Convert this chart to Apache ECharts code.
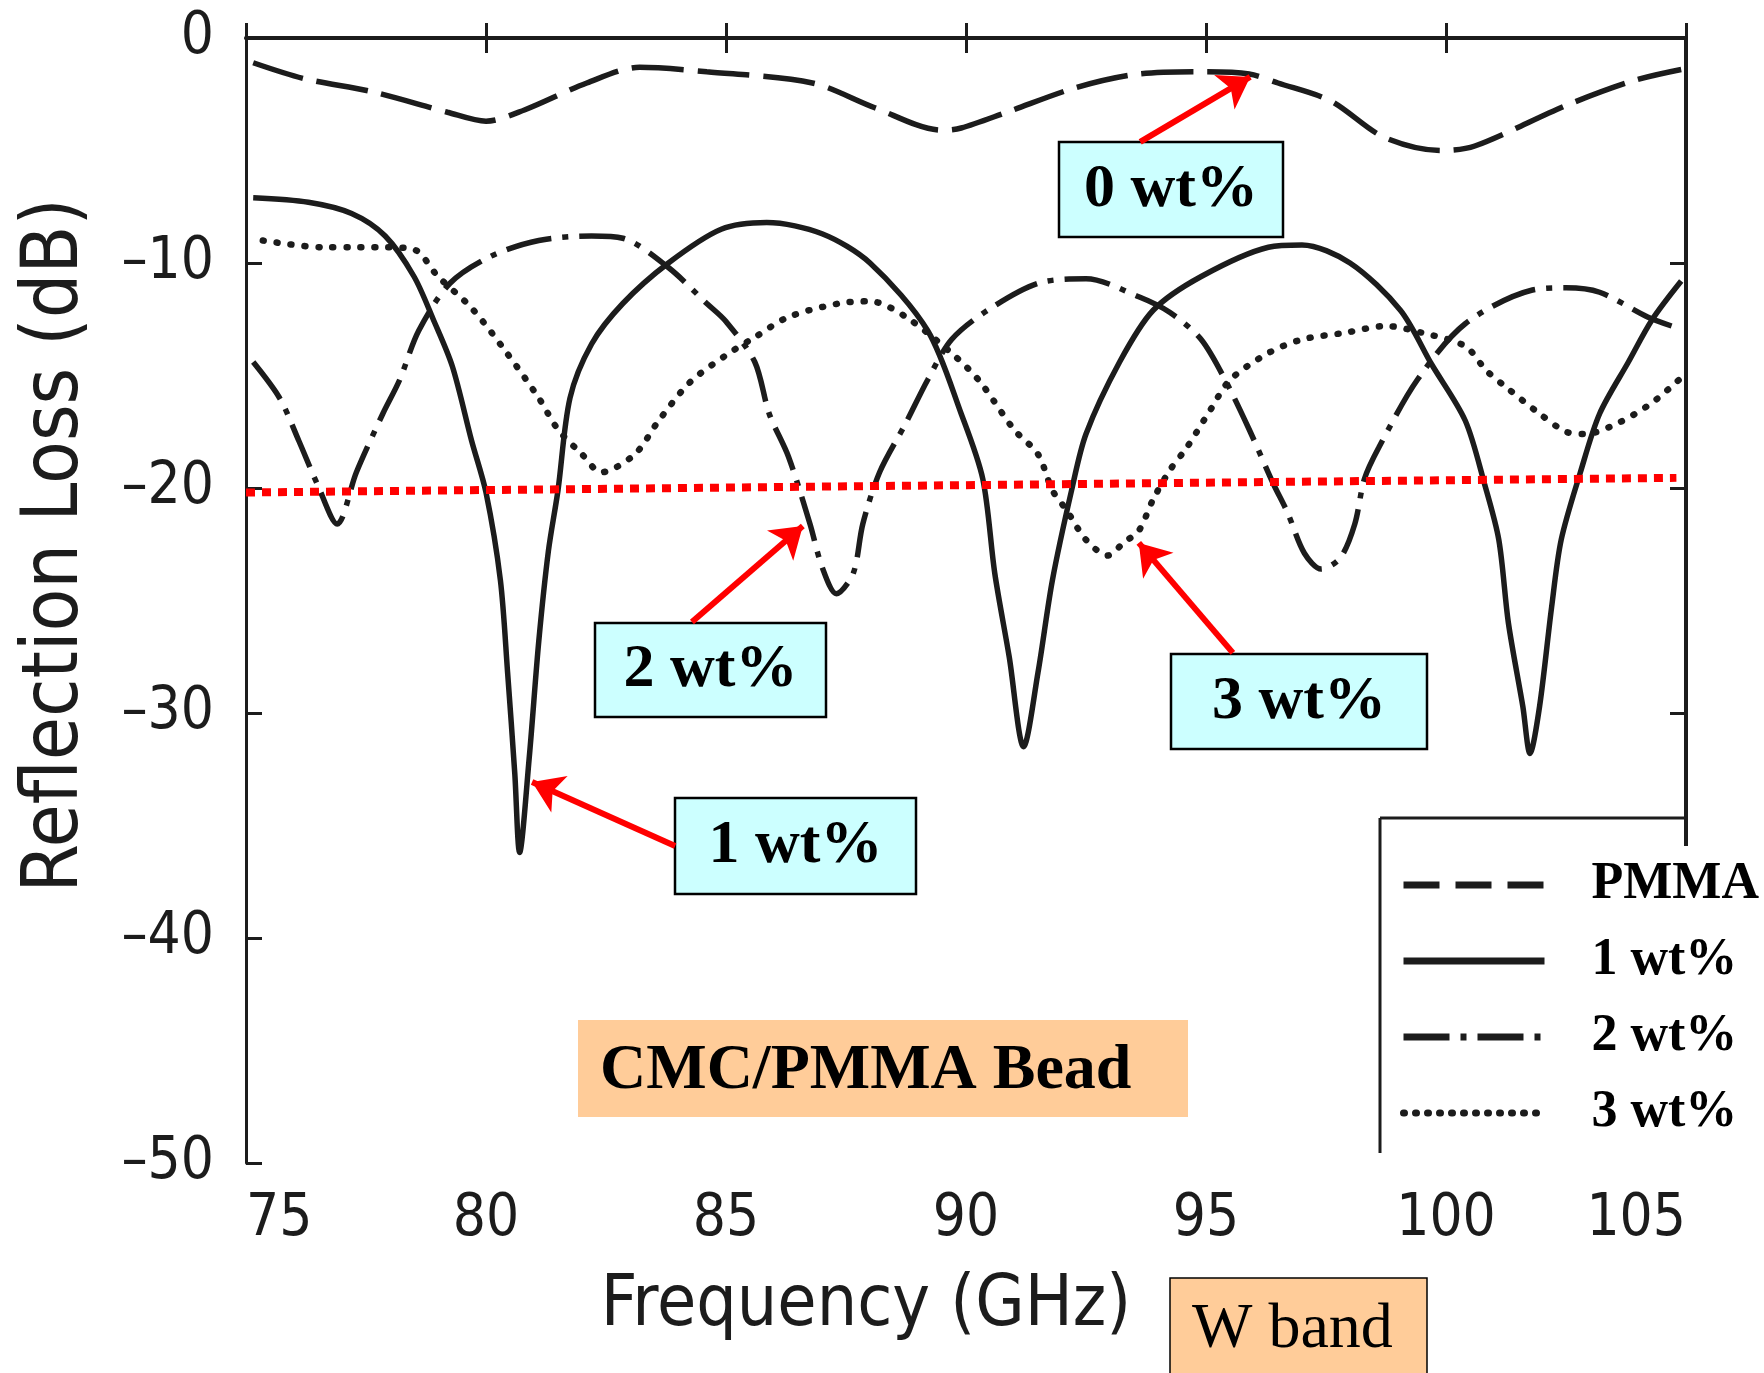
<!DOCTYPE html>
<html>
<head>
<meta charset="utf-8">
<title>Reflection Loss - CMC/PMMA Bead</title>
<script src="https://cdn.jsdelivr.net/npm/echarts@6/dist/echarts.min.js"></script>
<style>
html, body { margin: 0; padding: 0; background: #fff; }
#main { width: 1764px; height: 1373px; }
</style>
</head>
<body>
<div id="main"></div>
<script>
// axis ticks
var freqTicks = [75, 80, 85, 90, 95, 100, 105];
var lossTicks = [-50, -40, -30, -20, -10, 0];

// PMMA (0 wt%)
var pmmaFreq = [75.15, 76.2, 77.65, 79.2, 80.0, 80.8, 82.1, 83.2, 84.6, 86.8, 88.1, 89.5, 89.9, 90.85, 92.3, 93.6, 95.0, 95.9, 96.5, 97.6, 98.7, 99.9, 100.6, 102.5, 103.9, 104.9];
var pmmaLoss = [-1.1, -1.8, -2.4, -3.3, -3.7, -3.2, -2.0, -1.3, -1.5, -2.0, -3.1, -4.1, -4.0, -3.3, -2.2, -1.6, -1.5, -1.6, -2.0, -2.8, -4.4, -5.0, -4.8, -3.0, -1.9, -1.4];

// 1 wt%
var wt1Freq = [75.15, 76.3, 77.2, 77.9, 78.5, 78.9, 79.3, 79.7, 80.0, 80.3, 80.45, 80.6, 80.7, 80.9, 81.1, 81.3, 81.5, 81.75, 82.2, 82.85, 83.8, 84.9, 85.85, 87.0, 88.0, 89.2, 89.9, 90.35, 90.6, 90.9, 91.2, 91.5, 91.8, 92.2, 92.5, 93.2, 93.9, 94.9, 96.3, 97.0, 98.0, 99.05, 99.7, 100.4, 100.8, 101.1, 101.3, 101.6, 101.75, 101.95, 102.2, 102.4, 102.8, 103.2, 103.8, 104.3, 104.9];
var wt1Loss = [-7.1, -7.3, -7.8, -8.8, -10.6, -12.5, -14.6, -17.9, -20.2, -24.1, -28.2, -32.7, -36.2, -32.0, -26.8, -22.8, -20.1, -16.0, -13.6, -11.8, -10.0, -8.5, -8.2, -8.7, -10.0, -13.0, -16.7, -19.6, -23.8, -27.5, -31.5, -28.2, -24.1, -20.1, -17.6, -14.4, -12.1, -10.6, -9.3, -9.2, -10.0, -12.1, -14.5, -17.0, -19.8, -22.3, -26.0, -29.7, -31.8, -29.7, -25.3, -22.3, -19.3, -16.7, -14.4, -12.5, -10.8];

// 2 wt%
var wt2Freq = [75.15, 75.7, 76.1, 76.5, 76.9, 77.3, 77.85, 78.2, 78.6, 79.25, 80.1, 81.1, 82.2, 82.85, 83.8, 84.6, 85.0, 85.6, 85.9, 86.3, 86.75, 87.0, 87.3, 87.65, 87.85, 88.2, 88.75, 89.2, 89.7, 90.45, 91.5, 92.5, 93.6, 94.25, 94.9, 95.4, 95.9, 96.4, 96.7, 97.05, 97.4, 97.8, 98.1, 98.3, 98.6, 99.4, 100.4, 101.8, 102.5, 103.2, 104.2, 104.7];
var wt2Loss = [-14.4, -16.0, -17.9, -19.9, -21.6, -19.3, -16.7, -15.2, -13.0, -10.9, -9.7, -9.0, -8.8, -8.9, -10.2, -11.8, -12.6, -14.4, -16.7, -18.6, -21.6, -23.5, -24.7, -23.8, -21.6, -19.3, -17.1, -15.2, -13.4, -12.1, -10.9, -10.7, -11.5, -12.2, -13.4, -15.2, -17.4, -19.8, -21.1, -22.9, -23.6, -23.1, -21.6, -19.6, -18.2, -15.2, -12.7, -11.2, -11.1, -11.3, -12.4, -12.8];

// 3 wt%
var wt3Freq = [75.35, 76.6, 77.2, 77.85, 78.5, 79.0, 79.7, 80.4, 81.1, 81.5, 82.0, 82.4, 83.1, 83.6, 84.25, 85.0, 85.6, 86.3, 87.35, 88.0, 88.75, 89.8, 90.3, 91.0, 91.5, 91.8, 92.1, 92.5, 92.95, 93.3, 93.6, 93.9, 94.25, 94.6, 95.1, 95.5, 96.3, 97.0, 97.9, 98.75, 99.5, 100.4, 100.85, 101.3, 101.95, 102.5, 102.9, 103.6, 104.3, 104.9];
var wt3Loss = [-9.0, -9.3, -9.3, -9.3, -9.4, -10.6, -12.0, -13.9, -16.0, -17.4, -18.5, -19.3, -18.5, -17.0, -15.3, -14.1, -13.3, -12.4, -11.8, -11.7, -12.4, -14.2, -15.3, -17.4, -18.5, -20.1, -21.0, -22.3, -23.0, -22.4, -21.9, -20.5, -19.2, -18.2, -16.5, -15.2, -14.0, -13.4, -13.1, -12.8, -13.1, -13.7, -14.8, -15.6, -16.7, -17.5, -17.6, -17.1, -16.2, -15.1];

// red -20 dB guide line and the label arrows (tail -> head)
var guideLine = [[75, -20.2], [104.8, -19.55]];
var arrowFrom = [[93.63, -4.62], [84.29, -25.96], [83.94, -35.91], [95.56, -27.33]];
var arrowTo = [[95.92, -1.73], [86.6, -21.69], [80.96, -33.07], [93.6, -22.44]];

var seriesNames = ['PMMA', '1 wt%', '2 wt%', '3 wt%'];

var ink = '#1c1c1c';
var scanFont = '"DejaVu Sans Condensed", "DejaVu Sans", sans-serif';
var serif = '"Liberation Serif", "Times New Roman", serif';

function pairs(xs, ys) {
    return xs.map(function (x, i) { return [x, ys[i]]; });
}

function curve(name, xs, ys, dash, cap, width) {
    return {
        name: name,
        type: 'line',
        data: pairs(xs, ys),
        symbol: 'none',
        smooth: 0.3,
        lineStyle: { color: ink, width: width || 5.5, type: dash, cap: cap || 'butt' },
        itemStyle: { color: ink },
        emphasis: { disabled: true },
        z: 2
    };
}

// a cyan / orange label box with text
function box(x, y, w, h, fill, text, opt) {
    opt = opt || {};
    var items = [{
        type: 'rect',
        z: 5,
        shape: { x: x, y: y, width: w, height: h },
        style: { fill: fill, stroke: opt.stroke === undefined ? '#000' : opt.stroke, lineWidth: opt.lineWidth || 2.5 }
    }];
    var tx = opt.left ? x + opt.left : x + w / 2;
    items.push({
        type: 'text',
        z: 6,
        style: {
            text: text,
            x: tx,
            y: y + h / 2 + (opt.dy || 0),
            fill: '#000',
            fontFamily: serif,
            fontWeight: opt.weight || 'bold',
            fontSize: opt.size || 62,
            align: opt.left ? 'left' : 'center',
            textAlign: opt.left ? 'left' : 'center',
            verticalAlign: 'middle',
            textVerticalAlign: 'middle'
        }
    });
    return items;
}

var arrowLines = arrowFrom.map(function (p, i) {
    return [{ coord: p }, { coord: arrowTo[i] }];
});

var dom = document.getElementById('main');
var myChart = echarts.init(dom, null, { renderer: 'canvas' });

var graphics = []
    // white patch the legend was pasted on
    .concat([
        { type: 'rect', z: 3, shape: { x: 1384, y: 846, width: 380, height: 290 }, style: { fill: '#fff' } },
        { type: 'rect', z: 3, shape: { x: 1572, y: 1136, width: 192, height: 36 }, style: { fill: '#fff' } },
        { type: 'line', z: 3, shape: { x1: 1380, y1: 818, x2: 1686, y2: 818 }, style: { stroke: ink, lineWidth: 3 } },
        { type: 'line', z: 3, shape: { x1: 1380, y1: 818, x2: 1380, y2: 1153 }, style: { stroke: ink, lineWidth: 3 } }
    ])
    .concat(box(1059, 142, 224, 95, '#ccffff', '0 wt%'))
    .concat(box(595, 623, 231, 94, '#ccffff', '2 wt%'))
    .concat(box(675, 798, 241, 96, '#ccffff', '1 wt%'))
    .concat(box(1171, 654, 256, 95, '#ccffff', '3 wt%'))
    .concat(box(578, 1020, 610, 97, '#ffcc99', 'CMC/PMMA Bead', { stroke: null, left: 22, size: 64, dy: 3 }))
    .concat(box(1170, 1278, 257, 110, '#ffcc99', 'W band', { left: 22, size: 64, weight: 'normal', lineWidth: 1.5, dy: -3 }));

var option = {
    animation: false,
    backgroundColor: '#fff',
    grid: { left: 246, right: 78, top: 38, bottom: 210, containLabel: false },
    legend: {
        data: [
            { name: seriesNames[0], lineStyle: { type: [36, 16] } },
            seriesNames[1],
            seriesNames[2],
            { name: seriesNames[3], lineStyle: { type: [1, 11], cap: 'round' } }
        ],
        orient: 'vertical',
        left: 1395,
        top: 852,
        itemWidth: 141,
        itemHeight: 14,
        itemGap: 20,
        selectedMode: false,
        itemStyle: { opacity: 0 },
        lineStyle: { width: 7 },
        textStyle: {
            fontFamily: serif,
            fontWeight: 'bold',
            fontSize: 52,
            color: '#000',
            lineHeight: 56,
            padding: [0, 0, 0, 42]
        },
        z: 6
    },
    xAxis: [
        {
            type: 'value',
            position: 'bottom',
            min: freqTicks[0],
            max: freqTicks[freqTicks.length - 1],
            interval: freqTicks[1] - freqTicks[0],
            name: 'Frequency (GHz)',
            nameLocation: 'middle',
            nameGap: 108,
            nameTextStyle: { fontFamily: scanFont, fontSize: 71, color: ink, padding: [0, 200, 0, 0] },
            axisLine: { show: true, lineStyle: { color: ink, width: 4 } },
            axisTick: { show: true, inside: true, length: 15, lineStyle: { color: ink, width: 3 } },
            axisLabel: { fontFamily: scanFont, fontSize: 58, color: ink, margin: 28, alignMinLabel: 'left', alignMaxLabel: 'right' },
            splitLine: { show: false }
        },
        {
            type: 'value',
            position: 'top',
            min: freqTicks[0],
            max: freqTicks[freqTicks.length - 1],
            interval: freqTicks[1] - freqTicks[0],
            axisLine: { show: true, lineStyle: { color: ink, width: 3 } },
            axisTick: { show: true, inside: true, length: 15, lineStyle: { color: ink, width: 3 } },
            axisLabel: { show: false },
            splitLine: { show: false }
        }
    ],
    yAxis: [
        {
            type: 'value',
            position: 'left',
            min: lossTicks[0],
            max: lossTicks[lossTicks.length - 1],
            interval: lossTicks[1] - lossTicks[0],
            name: 'Reflection Loss (dB)',
            nameLocation: 'middle',
            nameRotate: 90,
            nameGap: 150,
            nameTextStyle: { fontFamily: scanFont, fontSize: 78, color: ink, padding: [0, 0, 0, 110] },
            axisLine: { show: true, lineStyle: { color: ink, width: 3 } },
            axisTick: { show: true, inside: true, length: 16, lineStyle: { color: ink, width: 3 } },
            axisLabel: {
                fontFamily: scanFont, fontSize: 58, color: ink, margin: 32,
                formatter: function (v) { return String(v).replace('-', '\u2013'); }
            },
            splitLine: { show: false }
        },
        {
            type: 'value',
            position: 'right',
            min: lossTicks[0],
            max: lossTicks[lossTicks.length - 1],
            interval: lossTicks[1] - lossTicks[0],
            axisLine: { show: true, lineStyle: { color: ink, width: 4 } },
            axisTick: { show: true, inside: true, length: 16, lineStyle: { color: ink, width: 3 } },
            axisLabel: { show: false },
            splitLine: { show: false }
        }
    ],
    series: [
        curve(seriesNames[0], pmmaFreq, pmmaLoss, [52, 14]),
        curve(seriesNames[1], wt1Freq, wt1Loss, 'solid'),
        curve(seriesNames[2], wt2Freq, wt2Loss, [46, 11, 6, 11]),
        curve(seriesNames[3], wt3Freq, wt3Loss, [1, 13], 'round', 6.5),
        {
            name: 'guide',
            type: 'line',
            data: [],
            silent: true,
            z: 4,
            markLine: {
                silent: true,
                symbol: ['none', 'none'],
                label: { show: false },
                emphasis: { disabled: true },
                lineStyle: { color: '#ff0000', width: 8, type: [9, 7], cap: 'butt' },
                data: [[{ coord: guideLine[0] }, { coord: guideLine[1] }]]
            }
        },
        {
            name: 'arrows',
            type: 'line',
            data: [],
            silent: true,
            z: 4,
            itemStyle: { color: '#ff0000' },
            markLine: {
                silent: true,
                symbol: ['none', 'arrow'],
                symbolSize: 30,
                label: { show: false },
                emphasis: { disabled: true },
                itemStyle: { color: '#ff0000' },
                lineStyle: { color: '#ff0000', width: 6, type: 'solid' },
                data: arrowLines
            }
        }
    ],
    graphic: { elements: graphics }
};

if (option && typeof option === "object") {
    myChart.setOption(option, true);
}
</script>
</body>
</html>
